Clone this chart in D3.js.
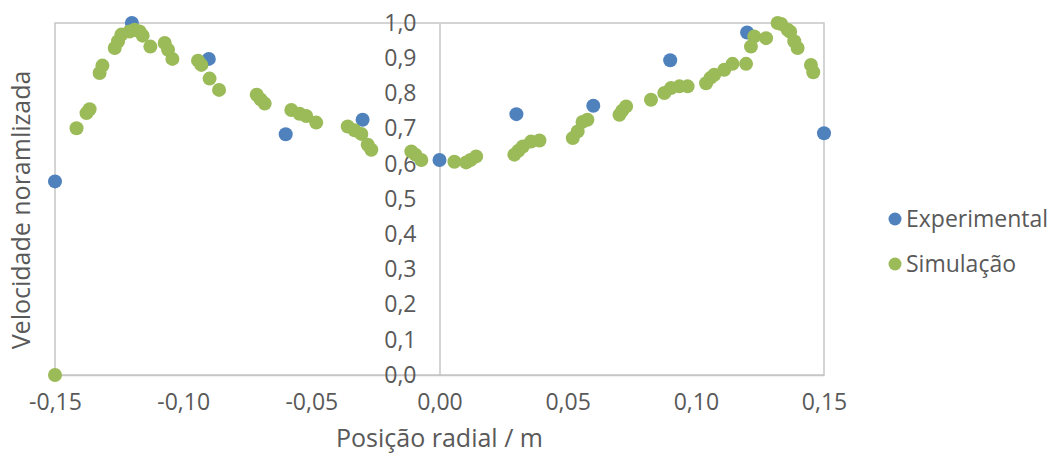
<!DOCTYPE html>
<html>
<head>
<meta charset="utf-8">
<script src="https://cdn.jsdelivr.net/npm/d3@7"></script>
<style>
  body { margin: 0; background: #fff; }
  text { font-family: "Open Sans", "Noto Sans", sans-serif; fill: #595959; }
</style>
</head>
<body>
<div id="chart"></div>
<script>
// experimental measurements
const expX = [-0.15, -0.12, -0.09, -0.06, -0.03, 0.0, 0.03, 0.06, 0.09, 0.12, 0.15];
const expY = [0.55, 1.0, 0.898, 0.684, 0.725, 0.611, 0.741, 0.765, 0.894, 0.973, 0.687];

// simulation results
const simX = [-0.150, -0.1416, -0.1377, -0.1365, -0.1326, -0.1315, -0.1267, -0.1254, -0.1241, -0.1209,
  -0.1189, -0.1170, -0.1158, -0.1128, -0.1072, -0.1059, -0.1042, -0.0942, -0.0929, -0.0897,
  -0.0860, -0.0713, -0.0698, -0.0682, -0.0578, -0.0546, -0.0520, -0.0481, -0.0358, -0.0331,
  -0.0305, -0.0280, -0.0266, -0.0110, -0.0094, -0.0071, 0.0058, 0.0104, 0.0121, 0.0143,
  0.0292, 0.0308, 0.0325, 0.0357, 0.0390, 0.0520, 0.0539, 0.0558, 0.0577, 0.0702,
  0.0713, 0.0728, 0.0825, 0.0877, 0.0903, 0.0936, 0.0968, 0.1040, 0.1057, 0.1072,
  0.1111, 0.1143, 0.1196, 0.1215, 0.1228, 0.1274, 0.1319, 0.1333, 0.1358, 0.1368,
  0.1384, 0.1397, 0.1449, 0.1458];
const simY = [0.000, 0.701, 0.744, 0.755, 0.858, 0.879, 0.929, 0.948, 0.967, 0.976,
  0.981, 0.976, 0.964, 0.933, 0.943, 0.924, 0.898, 0.893, 0.881, 0.842,
  0.810, 0.796, 0.783, 0.771, 0.753, 0.742, 0.736, 0.717, 0.706, 0.695,
  0.685, 0.654, 0.640, 0.635, 0.626, 0.611, 0.606, 0.604, 0.611, 0.621,
  0.626, 0.637, 0.649, 0.663, 0.666, 0.673, 0.692, 0.719, 0.725, 0.739,
  0.751, 0.763, 0.782, 0.801, 0.815, 0.820, 0.820, 0.829, 0.844, 0.853,
  0.867, 0.884, 0.884, 0.933, 0.962, 0.957, 1.000, 0.997, 0.981, 0.975,
  0.948, 0.929, 0.881, 0.860];

const xTicks = [-0.15, -0.10, -0.05, 0.0, 0.05, 0.10, 0.15];
const yTicks = [0, 0.1, 0.2, 0.3, 0.4, 0.5, 0.6, 0.7, 0.8, 0.9, 1.0];

const seriesNames = ["Experimental", "Simulação"];
const seriesColors = ["#4f81bd", "#9bbb59"];

const W = 1051, H = 455;
const margin = {top: 23, right: 227, bottom: 80, left: 55};

const svg = d3.select("#chart").append("svg")
    .attr("width", W)
    .attr("height", H);

const x = d3.scaleLinear().domain([-0.15, 0.15]).range([margin.left, W - margin.right]);
const y = d3.scaleLinear().domain([0, 1]).range([H - margin.bottom, margin.top]);

// comma decimals, plain hyphen for negatives
const fmt = d => (Math.abs(d) < 1e-9 ? "0,00" : d3.format(".2f")(d).replace(".", ",").replace("\u2212", "-"));
const fmtY = d => d3.format(".1f")(d).replace(".", ",");

// plot frame
svg.append("rect")
    .attr("x", x(-0.15))
    .attr("y", y(1))
    .attr("width", x(0.15) - x(-0.15))
    .attr("height", y(0) - y(1))
    .attr("fill", "none")
    .attr("stroke", "#c6c6c6")
    .attr("stroke-width", 1.5);

// x axis (at y = 0)
const xAxis = svg.append("g")
    .attr("transform", `translate(0,${y(0)})`)
    .call(d3.axisBottom(x).tickValues(xTicks).tickSize(0).tickPadding(19).tickFormat(fmt));
xAxis.select(".domain").attr("stroke", "#c6c6c6").attr("stroke-width", 1.5);
xAxis.selectAll("text").style("font-size", "23px").attr("fill", "#595959");

// y axis (crossing at x = 0)
const yAxis = svg.append("g")
    .attr("transform", `translate(${x(0)},0)`)
    .call(d3.axisLeft(y).tickValues(yTicks).tickSize(0).tickPadding(23).tickFormat(fmtY));
yAxis.select(".domain").attr("stroke", "#c6c6c6").attr("stroke-width", 1.5);
yAxis.selectAll("text").style("font-size", "23px").attr("fill", "#595959");

// axis titles
svg.append("text")
    .attr("x", x(0))
    .attr("y", 447)
    .attr("text-anchor", "middle")
    .style("font-size", "25px")
    .text("Posição radial / m");

svg.append("text")
    .attr("transform", `translate(30,210) rotate(-90)`)
    .attr("text-anchor", "middle")
    .style("font-size", "25px")
    .text("Velocidade noramlizada");

const r = 7;

// experimental points
svg.append("g").selectAll("circle")
    .data(expX.map((v, i) => ({x: v, y: expY[i]})))
    .join("circle")
    .attr("cx", d => x(d.x))
    .attr("cy", d => y(d.y))
    .attr("r", r)
    .attr("fill", seriesColors[0]);

// simulation points
svg.append("g").selectAll("circle")
    .data(simX.map((v, i) => ({x: v, y: simY[i]})))
    .join("circle")
    .attr("cx", d => x(d.x))
    .attr("cy", d => y(d.y))
    .attr("r", r)
    .attr("fill", seriesColors[1]);

// legend
const legend = svg.append("g").attr("transform", "translate(895,219)");
seriesNames.forEach((name, i) => {
    const g = legend.append("g").attr("transform", `translate(0,${i * 45})`);
    g.append("circle").attr("r", 6.5).attr("fill", seriesColors[i]);
    g.append("text")
        .attr("x", 11)
        .attr("dy", "0.35em")
        .style("font-size", "23px")
        .text(name);
});
</script>
</body>
</html>
